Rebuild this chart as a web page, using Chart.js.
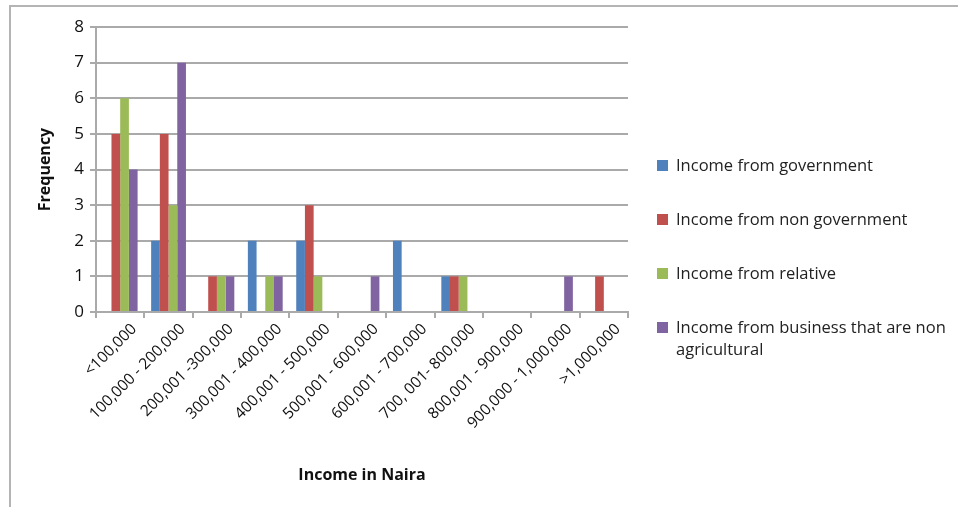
<!DOCTYPE html>
<html>
<head>
<meta charset="utf-8">
<script src="https://cdn.jsdelivr.net/npm/chart.js@4/dist/chart.umd.min.js"></script>
<style>
  html, body { margin: 0; padding: 0; background: #fff; }
  #wrap { position: relative; width: 958px; height: 507px; overflow: hidden; }
  #frame { position: absolute; left: 9px; top: 5px; right: -2px; bottom: -2px;
           border-left: 2px solid #b4b4b4; border-top: 2px solid #b4b4b4; }
  #incomeChart { position: absolute; left: 0; top: 0; }
  #legend { position: absolute; left: 657px; top: 154px; width: 300px;
            font-family: "Open Sans", sans-serif; font-size: 16.5px; color: #222; }
  #legend .item { position: relative; padding-left: 19px; line-height: 22px; margin-bottom: 32px; }
  #legend .box { position: absolute; left: 0; top: 6px; width: 11px; height: 11px; }
</style>
</head>
<body>
<div id="wrap">
  <div id="frame"></div>
  <canvas id="incomeChart" width="958" height="507"></canvas>
  <div id="legend"></div>
</div>
<script>
// 收入區間 (x 軸)
const INCOME_RANGES = [
    '<100,000', '100,000 - 200,000', '200,001 -300,000', '300,001 - 400,000',
    '400,001 - 500,000', '500,001 - 600,000', '600,001 - 700,000', '700, 001- 800,000',
    '800,001 - 900,000', '900,000 - 1,000,000', '>1,000,000'
];

// 各收入來源的次數
const FROM_GOVERNMENT     = [0, 2, 0, 2, 2, 0, 2, 1, 0, 0, 0];
const FROM_NON_GOVERNMENT = [5, 5, 1, 0, 3, 0, 0, 1, 0, 0, 1];
const FROM_RELATIVE       = [6, 3, 1, 1, 1, 0, 0, 1, 0, 0, 0];
const FROM_BUSINESS       = [4, 7, 1, 1, 0, 1, 0, 0, 0, 1, 0];

const SERIES_NAMES = [
    'Income from government',
    'Income from non government',
    'Income from relative',
    'Income from business that are non agricultural'
];
const SERIES_COLORS = ['#4F81BD', '#C0504D', '#9BBB59', '#8064A2'];

const Y_TICKS = [0, 1, 2, 3, 4, 5, 6, 7, 8];

const seriesData = [FROM_GOVERNMENT, FROM_NON_GOVERNMENT, FROM_RELATIVE, FROM_BUSINESS];
const FONT = '"Open Sans", sans-serif';
const GRID = '#aaaaaa';

const datasets = seriesData.map((d, i) => ({
    label: SERIES_NAMES[i],
    data: d,
    backgroundColor: SERIES_COLORS[i],
    categoryPercentage: 0.72,
    barPercentage: 1.0
}));

new Chart(document.getElementById('incomeChart').getContext('2d'), {
    type: 'bar',
    data: { labels: INCOME_RANGES, datasets: datasets },
    options: {
        responsive: false,
        animation: false,
        layout: { padding: { left: 32, right: 330, top: 27, bottom: 18 } },
        plugins: { legend: { display: false }, tooltip: { enabled: false } },
        scales: {
            x: {
                grid: { drawOnChartArea: false, drawTicks: true, tickLength: 6, color: GRID, lineWidth: 2 },
                border: { color: GRID, width: 2 },
                ticks: { color: '#111', font: { family: FONT, size: 15.5 }, minRotation: 45, maxRotation: 45,
                         padding: 2, labelOffset: 14 },
                title: { display: true, text: 'Income in Naira', color: '#111',
                         font: { family: FONT, size: 16, weight: 'bold' }, padding: { top: 4, bottom: 4 } },
                afterFit: s => { s.height = 489 - 312; }
            },
            y: {
                min: 0, max: 8,
                afterBuildTicks: s => { s.ticks = Y_TICKS.map(v => ({ value: v })); },
                grid: { color: GRID, lineWidth: 2, tickLength: 6 },
                border: { color: GRID, width: 2 },
                ticks: { color: '#111', font: { family: FONT, size: 17 }, padding: 6 },
                title: { display: true, text: 'Frequency', color: '#111',
                         font: { family: FONT, size: 16, weight: 'bold' }, padding: { top: 4, bottom: 4 } },
                afterFit: s => { s.width = 96 - 32; }
            }
        }
    }
});

// 右側圖例 (可換行)
const legendDiv = document.getElementById('legend');
let html = '';
SERIES_NAMES.forEach((name, i) => {
    html += `<div class="item"><span class="box" style="background:${SERIES_COLORS[i]}"></span>${name}</div>`;
});
legendDiv.innerHTML = html;
</script>
</body>
</html>
